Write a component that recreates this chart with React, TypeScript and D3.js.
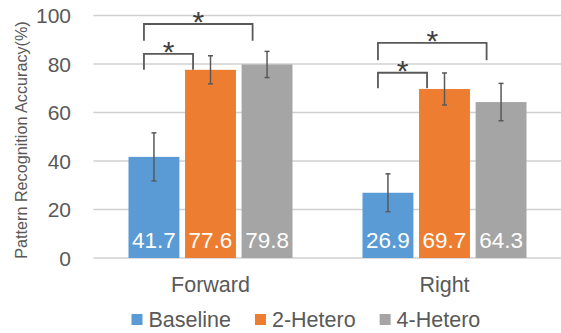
import React from "react";
import * as d3 from "d3";

// Grouped bars with error bars and significance brackets
const categories = ["Forward", "Right"];
const series = ["Baseline", "2-Hetero", "4-Hetero"];
const colors = ["#5B9BD5", "#ED7D31", "#A5A5A5"];

// accuracy (%) per category, one array per series
const baselineValues = [41.7, 26.9];
const hetero2Values = [77.6, 69.7];
const hetero4Values = [79.8, 64.3];

// +/- error per category, one array per series
const baselineErrors = [9.9, 7.8];
const hetero2Errors = [5.8, 6.6];
const hetero4Errors = [5.4, 7.7];

const yTicks = [0, 20, 40, 60, 80, 100];

// significance brackets: category, from series, to series, top level, leg end level
const bracketCategory = ["Forward", "Forward", "Right", "Right"];
const bracketFrom = [0, 0, 0, 0];
const bracketTo = [1, 2, 1, 2];
const bracketTop = [84.2, 96.5, 76.4, 88.7];
const bracketFoot = [77.6, 89.6, 70.0, 81.5];

const W = 561;
const H = 333;
const FONT = "'Liberation Sans', Arial, sans-serif";
const TEXT = "#595959";

function measure(text: string, size: number) {
  const c = document.createElement("canvas").getContext("2d");
  if (!c) return text.length * size * 0.55;
  c.font = `${size}px ${FONT}`;
  return c.measureText(text).width;
}

export default function App() {
  const values = [baselineValues, hetero2Values, hetero4Values];
  const errors = [baselineErrors, hetero2Errors, hetero4Errors];

  const y = d3.scaleLinear().domain([0, 100]).range([258, 15.5]);
  const x0 = d3.scaleBand<string>().domain(categories).range([93.5, 561.5]).padding(0);
  const groupW = 164;
  const inset = (x0.bandwidth() - groupW) / 2;
  const x1 = d3
    .scaleBand<number>()
    .domain(series.map((_, i) => i))
    .range([inset, inset + groupW])
    .paddingInner(0.1)
    .paddingOuter(0);
  const bw = x1.bandwidth();

  // legend layout
  const legendSize = 21.5;
  let lx = 131.5;
  const legendItems = series.map((s, i) => {
    const item = { s, i, x: lx };
    lx += 11 + 6 + measure(s, legendSize) + 24;
    return item;
  });

  return (
    <svg width={W} height={H} style={{ position: "absolute", left: 0, top: 0, background: "#fff" }}>
      {/* gridlines */}
      {yTicks.map((t) => (
        <line key={t} x1={93.5} x2={561} y1={y(t)} y2={y(t)} stroke="#D0D0D0" strokeWidth={1.3} />
      ))}
      {/* tick labels */}
      {yTicks.map((t) => (
        <text key={"l" + t} x={71} y={y(t) + 7.5} textAnchor="end" fontFamily={FONT} fontSize={21} fill={TEXT}>
          {t}
        </text>
      ))}
      {/* axis title */}
      <text
        transform="translate(27,140) rotate(-90)"
        textAnchor="middle"
        fontFamily={FONT}
        fontSize={16.2}
        fill={TEXT}
      >
        Pattern Recognition Accuracy(%)
      </text>

      {/* bars */}
      {categories.map((c, ci) => (
        <g key={c} transform={`translate(${x0(c)},0)`}>
          {series.map((s, si) => {
            const v = values[si][ci];
            const bx = x1(si)!;
            return (
              <rect key={s} x={bx} y={y(v)} width={bw} height={y(0) - y(v)} fill={colors[si]} />
            );
          })}
        </g>
      ))}

      {/* data labels */}
      {categories.map((c, ci) =>
        series.map((s, si) => (
          <text
            key={c + s}
            x={x0(c)! + x1(si)! + bw / 2}
            y={y(0) - 10.5}
            textAnchor="middle"
            fontFamily={FONT}
            fontSize={22.5}
            fill="#fff"
          >
            {values[si][ci].toFixed(1)}
          </text>
        ))
      )}

      {/* error bars */}
      {categories.map((c, ci) =>
        series.map((s, si) => {
          const cx = x0(c)! + x1(si)! + bw / 2;
          const v = values[si][ci];
          const e = errors[si][ci];
          return (
            <g key={"e" + c + s} stroke="#595959" strokeWidth={1.5}>
              <line x1={cx} x2={cx} y1={y(v + e)} y2={y(v - e)} />
              <line x1={cx - 2.5} x2={cx + 2.5} y1={y(v + e)} y2={y(v + e)} />
              <line x1={cx - 2.5} x2={cx + 2.5} y1={y(v - e)} y2={y(v - e)} />
            </g>
          );
        })
      )}

      {/* significance brackets */}
      {bracketCategory.map((c, bi) => {
        const gx = x0(c)!;
        const left = gx + x1(bracketFrom[bi])! + bw / 2 - 10;
        const right = gx + x1(bracketTo[bi])! + 8 + (bracketTo[bi] - 1) * 3;
        const top = y(bracketTop[bi]);
        const foot = y(bracketFoot[bi]);
        return (
          <g key={"b" + bi}>
            <path
              d={`M${left},${foot}V${top}H${right}V${foot}`}
              fill="none"
              stroke="#595959"
              strokeWidth={1.8}
            />
            <text
              x={(left + right) / 2}
              y={top + 8}
              textAnchor="middle"
              fontFamily={FONT}
              fontSize={30}
              fill="#404040"
            >
              *
            </text>
          </g>
        );
      })}

      {/* category labels */}
      {categories.map((c) => (
        <text
          key={"c" + c}
          x={x0(c)! + x0.bandwidth() / 2}
          y={291.5}
          textAnchor="middle"
          fontFamily={FONT}
          fontSize={21.5}
          fill={TEXT}
        >
          {c}
        </text>
      ))}

      {/* legend */}
      {legendItems.map(({ s, i, x }) => (
        <g key={"lg" + s}>
          <rect x={x} y={314} width={11} height={11} fill={colors[i]} />
          <text x={x + 17} y={326.5} fontFamily={FONT} fontSize={legendSize} fill={TEXT}>
            {s}
          </text>
        </g>
      ))}
    </svg>
  );
}
